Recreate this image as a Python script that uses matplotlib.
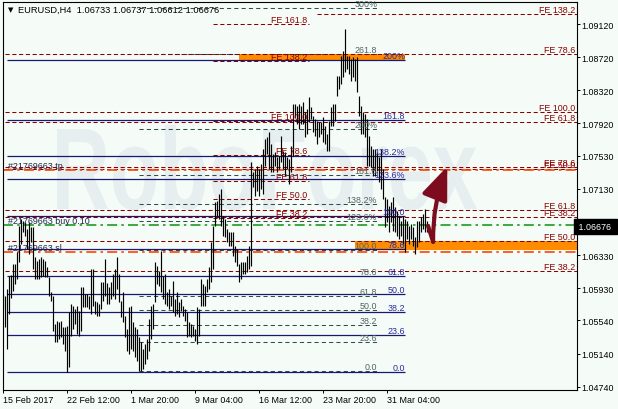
import matplotlib
matplotlib.use("Agg")
import matplotlib.pyplot as plt
import numpy as np
from matplotlib.patches import Rectangle, FancyArrowPatch, PathPatch
from matplotlib.textpath import TextPath
from matplotlib.font_manager import FontProperties
from matplotlib.transforms import Affine2D, blended_transform_factory

# EURUSD H4 bars (high / low), 15 Feb - 5 Apr 2017
highs = [
    1.0586, 1.0583, 1.0592, 1.0608, 1.0609, 1.0622, 1.0622, 1.0637, 1.0668, 1.0677,
    1.0674, 1.0673, 1.0664, 1.0673, 1.0667, 1.0667, 1.0631, 1.0626, 1.0628, 1.0631,
    1.0628, 1.0626, 1.0619, 1.0606, 1.0588, 1.0583, 1.0550, 1.0553, 1.0552, 1.0553,
    1.0546, 1.0546, 1.0547, 1.0564, 1.0574, 1.0571, 1.0568, 1.0571, 1.0565, 1.0594,
    1.0594, 1.0586, 1.0586, 1.0583, 1.0616, 1.0616, 1.0577, 1.0576, 1.0574, 1.0600,
    1.0600, 1.0628, 1.0599, 1.0594, 1.0600, 1.0610, 1.0616, 1.0631, 1.0610, 1.0577,
    1.0588, 1.0559, 1.0544, 1.0570, 1.0571, 1.0552, 1.0546, 1.0544, 1.0534, 1.0528,
    1.0520, 1.0526, 1.0532, 1.0556, 1.0571, 1.0574, 1.0625, 1.0620, 1.0614, 1.0638,
    1.0608, 1.0610, 1.0588, 1.0592, 1.0583, 1.0602, 1.0580, 1.0588, 1.0576, 1.0580,
    1.0571, 1.0568, 1.0564, 1.0552, 1.0550, 1.0547, 1.0544, 1.0570, 1.0568, 1.0604,
    1.0598, 1.0596, 1.0604, 1.0619, 1.0649, 1.0668, 1.0697, 1.0698, 1.0707, 1.0713,
    1.0680, 1.0677, 1.0664, 1.0661, 1.0661, 1.0661, 1.0644, 1.0640, 1.0622, 1.0625,
    1.0625, 1.0625, 1.0632, 1.0644, 1.0745, 1.0733, 1.0737, 1.0740, 1.0737, 1.0743,
    1.0761, 1.0773, 1.0775, 1.0782, 1.0767, 1.0755, 1.0757, 1.0751, 1.0753, 1.0777,
    1.0759, 1.0757, 1.0751, 1.0749, 1.0765, 1.0815, 1.0815, 1.0813, 1.0815, 1.0813,
    1.0818, 1.0806, 1.0809, 1.0824, 1.0812, 1.0801, 1.0797, 1.0795, 1.0794, 1.0794,
    1.0800, 1.0789, 1.0779, 1.0795, 1.0812, 1.0815, 1.0815, 1.0849, 1.0849, 1.0873,
    1.0879, 1.0906, 1.0873, 1.0873, 1.0870, 1.0872, 1.0870, 1.0872, 1.0825, 1.0813,
    1.0806, 1.0803, 1.0797, 1.0777, 1.0765, 1.0761, 1.0761, 1.0757, 1.0751, 1.0761,
    1.0737, 1.0703, 1.0701, 1.0692, 1.0697, 1.0703, 1.0691, 1.0686, 1.0680, 1.0674,
    1.0680, 1.0677, 1.0674, 1.0668, 1.0670, 1.0667, 1.0655, 1.0674, 1.0674, 1.0679,
    1.0683, 1.0689, 1.06737,
]
lows = [
    1.0568, 1.0546, 1.0520, 1.0562, 1.0581, 1.0590, 1.0598, 1.0604, 1.0625, 1.0646,
    1.0661, 1.0656, 1.0640, 1.0634, 1.0649, 1.0616, 1.0604, 1.0604, 1.0604, 1.0606,
    1.0608, 1.0606, 1.0606, 1.0583, 1.0577, 1.0541, 1.0528, 1.0528, 1.0532, 1.0534,
    1.0526, 1.0517, 1.0492, 1.0498, 1.0535, 1.0544, 1.0550, 1.0538, 1.0535, 1.0541,
    1.0570, 1.0570, 1.0570, 1.0568, 1.0562, 1.0571, 1.0562, 1.0559, 1.0559, 1.0568,
    1.0577, 1.0583, 1.0574, 1.0574, 1.0580, 1.0583, 1.0580, 1.0592, 1.0576, 1.0558,
    1.0552, 1.0534, 1.0517, 1.0514, 1.0520, 1.0517, 1.0510, 1.0505, 1.0493, 1.0493,
    1.0495, 1.0501, 1.0508, 1.0517, 1.0532, 1.0544, 1.0576, 1.0598, 1.0596, 1.0588,
    1.0580, 1.0574, 1.0571, 1.0568, 1.0571, 1.0564, 1.0559, 1.0562, 1.0558, 1.0565,
    1.0559, 1.0553, 1.0534, 1.0535, 1.0534, 1.0535, 1.0529, 1.0526, 1.0535, 1.0571,
    1.0571, 1.0571, 1.0588, 1.0592, 1.0600, 1.0616, 1.0668, 1.0680, 1.0677, 1.0668,
    1.0656, 1.0655, 1.0649, 1.0644, 1.0644, 1.0632, 1.0625, 1.0620, 1.0600, 1.0604,
    1.0610, 1.0610, 1.0612, 1.0616, 1.0620, 1.0715, 1.0704, 1.0710, 1.0704, 1.0713,
    1.0707, 1.0740, 1.0755, 1.0737, 1.0733, 1.0733, 1.0740, 1.0733, 1.0737, 1.0745,
    1.0737, 1.0728, 1.0737, 1.0719, 1.0733, 1.0753, 1.0800, 1.0791, 1.0785, 1.0791,
    1.0791, 1.0776, 1.0779, 1.0794, 1.0797, 1.0782, 1.0777, 1.0767, 1.0776, 1.0779,
    1.0770, 1.0767, 1.0759, 1.0759, 1.0789, 1.0789, 1.0795, 1.0825, 1.0833, 1.0840,
    1.0848, 1.0854, 1.0858, 1.0852, 1.0843, 1.0848, 1.0843, 1.0830, 1.0801, 1.0779,
    1.0779, 1.0776, 1.0740, 1.0740, 1.0739, 1.0728, 1.0728, 1.0734, 1.0721, 1.0713,
    1.0701, 1.0667, 1.0673, 1.0661, 1.0673, 1.0662, 1.0661, 1.0656, 1.0652, 1.0656,
    1.0646, 1.0637, 1.0652, 1.0646, 1.0652, 1.0644, 1.0634, 1.0643, 1.0649, 1.0661,
    1.0664, 1.0661, 1.06612,
]
last_ohlc = [1.06733, 1.06737, 1.06612, 1.06676]

date_tick_bars = [0, 32, 64, 96, 128, 160, 192]
date_tick_labels = ["15 Feb 2017", "22 Feb 12:00", "1 Mar 20:00", "9 Mar 04:00",
                    "16 Mar 12:00", "23 Mar 20:00", "31 Mar 04:00"]
price_ticks = [1.09120, 1.08720, 1.08320, 1.07920, 1.07530, 1.07130,
               1.06730, 1.06330, 1.05930, 1.05540, 1.05140, 1.04740]

# Fibonacci retracement (grey, dashed) and (navy, solid)
grey_levels = [0, 23.6, 38.2, 50, 61.8, 78.6, 100, 123.6, 138.2, 161.8, 200, 261.8, 300]
grey_names = ["0.0", "23.6", "38.2", "50.0", "61.8", "78.6", "100.0", "123.6%",
              "138.2%", "161.8", "200%", "261.8", "300%"]
grey_base, grey_top = 1.04930, 1.06391
grey_bars = (68, 187)

navy_levels = [0, 23.6, 38.2, 50, 61.8, 78.6, 100, 123.6, 138.2, 161.8, 200]
navy_names = ["0.0", "23.6", "38.2", "50.0", "61.8", "78.6", "100.0", "123.6%",
              "138.2%", "161.8", "200%"]
navy_base, navy_top = 1.04918, 1.06801
navy_bars = (2, 201)

# Fibonacci expansions (dark red, dashed)
fe_a_levels = [38.2, 50.0, 61.8, 78.6, 100.0, 138.2]
fe_a_base, fe_a_range = 1.04952, 0.03104
fe_b_levels = [38.2, 50.0, 61.8, 78.6]
fe_b_base, fe_b_range = 1.04929, 0.04873
fe_c_levels = [38.2, 50.0, 61.8, 78.6, 100.0, 138.2, 161.8]
fe_c_base, fe_c_range = 1.06053, 0.01896
fe_c_bars = (105, 153)

# order lines
order_names = ["#21769663 tp", "#21769663 buy 0.10", "#21769663 sl"]
order_prices = [1.0736, 1.0669, 1.0637]

# forecast arrow (bar index, price)
arrow_x = [212.4, 214.9, 222.0]
arrow_y = [1.0668, 1.0649, 1.0740]

BG = "#f5fcf8"
RED = "#8b0000"
GREY = "#2f4f4f"
NAVY = "#191970"
ORANGE = "#ff8c00"
ARROW = "#7d0c1e"
plt.rcParams["font.family"] = ["Liberation Sans", "DejaVu Sans"]

W, H = 618, 410
fig = plt.figure(figsize=(W / 100, H / 100), dpi=100, facecolor=BG)
ax = fig.add_axes([2.5 / W, (H - 390.5) / H, 574 / W, 388 / H])
ax.set_facecolor(BG)
ax.set_xlim(-0.4, 286.6)
ax.set_ylim(1.047063, 1.093918)
xmax = ax.get_xlim()[1]

# watermark
fp = FontProperties(family="Liberation Sans", weight="bold")
tpath = TextPath((0, 0), "RoboForex", size=1, prop=fp)
ext = tpath.get_extents()
sx = 420 / ext.width
wm = PathPatch(tpath, transform=Affine2D().scale(sx, 116).translate(57 - ext.x0 * sx, H - 210),
               fc="#e6eeef", ec="none", zorder=0.5)
ax.add_artist(wm)

# bars
idx = np.arange(len(highs))
ax.vlines(idx, lows, highs, color="black", lw=0.85, zorder=4)

fs = 6.4
dash_red = (0, (4, 2.5))
dash_grey = (0, (4, 3))

# grey fib
g0, g1 = grey_bars
for lv, nm in zip(grey_levels, grey_names):
    p = grey_base + lv / 100 * (grey_top - grey_base)
    ax.hlines(p, g0, g1, color=GREY, lw=0.75, ls=dash_grey, zorder=2)
    ax.text(g1, p, nm, color="#4f6464", fontsize=fs, ha="right", va="bottom", zorder=5)

# navy fib
n0, n1 = navy_bars
for lv, nm in zip(navy_levels, navy_names):
    p = navy_base + lv / 100 * (navy_top - navy_base)
    ax.hlines(p, n0, n1, color=NAVY, lw=0.9, zorder=2)
    ax.text(n1, p, nm, color="#2a2a9c", fontsize=fs, ha="right", va="bottom", zorder=5)

# expansions drawn to the right edge
for lv in fe_a_levels:
    p = fe_a_base + lv / 100 * fe_a_range
    start = 157 if lv > 120 else 0.8
    ax.hlines(p, start, xmax, color=RED, lw=0.75, ls=dash_red, zorder=2)
    ax.text(xmax - 0.6, p, f"FE {lv:.1f}", color=RED, fontsize=fs, ha="right", va="bottom", zorder=5)
for lv in fe_b_levels:
    p = fe_b_base + lv / 100 * fe_b_range
    ax.hlines(p, 0.8, xmax, color=RED, lw=0.75, ls=dash_red, zorder=2)
    ax.text(xmax - 0.6, p, f"FE {lv:.1f}", color=RED, fontsize=fs, ha="right", va="bottom", zorder=5)

c0, c1 = fe_c_bars
for lv in fe_c_levels:
    p = fe_c_base + lv / 100 * fe_c_range
    ax.hlines(p, c0, c1, color=RED, lw=0.75, ls=dash_red, zorder=2)
    ax.text(c1 - 1.2, p, f"FE {lv:.1f}", color=RED, fontsize=fs, ha="right", va="bottom", zorder=5)

# orange zones
z1_lo = navy_base + 2.0 * (navy_top - navy_base)
z1_hi = fe_b_base + 0.786 * fe_b_range
ax.add_patch(Rectangle((118, z1_lo), n1 - 118, z1_hi - z1_lo, fc=ORANGE, ec="none", zorder=1.5))
z2_lo = grey_top
z2_hi = fe_a_base + 0.5 * fe_a_range
ax.add_patch(Rectangle((176, z2_lo), xmax - 176, z2_hi - z2_lo, fc=ORANGE, ec="none", zorder=1.5))

# order lines
order_colors = ["#ff4500", "#1e9a1e", "#ff4500"]
for nm, p, c in zip(order_names, order_prices, order_colors):
    ax.axhline(p, color=c, lw=1.2, ls=(0, (6, 2.5, 1.5, 2.5)), zorder=2.5)
    ax.text(2.3, p, nm, color="#23234a", fontsize=fs, ha="left", va="bottom", zorder=5)

# arrow
ax.plot(arrow_x[:2], arrow_y[:2], color=ARROW, lw=3, solid_capstyle="round", zorder=6)
ax.add_patch(FancyArrowPatch((arrow_x[1], arrow_y[1]), (arrow_x[2], arrow_y[2]),
                             connectionstyle="arc3,rad=-0.1",
                             arrowstyle="-|>,head_length=1.0,head_width=0.4",
                             mutation_scale=20, color=ARROW, lw=3,
                             shrinkA=0, shrinkB=0, zorder=6))

# axes
for s in ax.spines.values():
    s.set_color("black")
    s.set_linewidth(0.8)
ax.yaxis.tick_right()
ax.set_yticks(price_ticks)
ax.set_yticklabels([f"{v:.5f}" for v in price_ticks])
ax.set_xticks(date_tick_bars)
ax.set_xticklabels(date_tick_labels, ha="left")
ax.tick_params(axis="y", length=2.2, width=0.7, pad=1.5, labelsize=fs, colors="black")
ax.tick_params(axis="x", length=2.2, width=0.7, pad=2, labelsize=fs, colors="black")

# current price box
bt = blended_transform_factory(ax.transAxes, ax.transData)
ax.text(1.0, last_ohlc[3], f" {last_ohlc[3]:.5f} ", transform=bt, color="white", fontsize=fs,
        ha="left", va="center", clip_on=False, zorder=7,
        bbox=dict(boxstyle="square,pad=0.3", fc="black", ec="black"))

# header
fig.text(11 / W, 1 - 10 / H, "\u25bc", family=["DejaVu Sans"], fontsize=5, ha="center", va="center")
fig.text(18 / W, 1 - 10 / H, "EURUSD,H4  " + " ".join(f"{v:.5f}" for v in last_ohlc),
         fontsize=6.7, ha="left", va="center", color="black")

fig.savefig("out.png", dpi=100, facecolor=BG)
